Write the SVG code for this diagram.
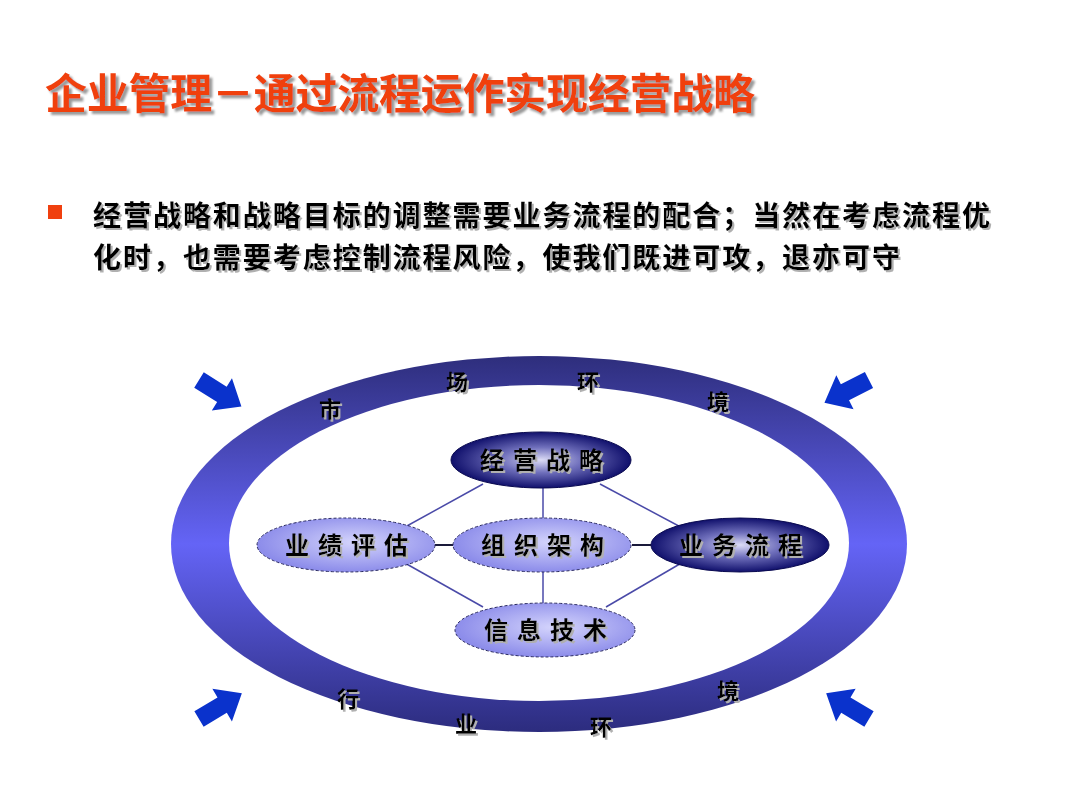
<svg xmlns="http://www.w3.org/2000/svg" width="1080" height="810" viewBox="0 0 1080 810">
<defs>
<style>
.cjk{font-family:"Noto Sans CJK SC","Noto Sans CJK TC",sans-serif;font-weight:bold;}
.title{font-size:42px;fill:#f0400f;}
.body{font-size:28px;fill:#000;}
.ring{font-size:22px;fill:#000;}
.node{font-size:24px;fill:#000;letter-spacing:9px;}
.conn{stroke:#4a4aa8;stroke-width:1.5;fill:none;}
.connd{stroke:#1a1a3a;stroke-width:2;fill:none;}
.arrow{fill:#0a32cc;}
</style>
<filter id="shadow" x="-10%" y="-20%" width="130%" height="150%">
<feGaussianBlur in="SourceAlpha" stdDeviation="0.8" result="b"/>
<feOffset in="b" dx="2.5" dy="2.5" result="o"/>
<feFlood flood-color="#9a9a9a"/>
<feComposite in2="o" operator="in" result="s"/>
<feMerge><feMergeNode in="s"/><feMergeNode in="SourceGraphic"/></feMerge>
</filter>
<filter id="shadowS" x="-10%" y="-20%" width="130%" height="150%">
<feGaussianBlur in="SourceAlpha" stdDeviation="0.6" result="b"/>
<feOffset in="b" dx="2" dy="2" result="o"/>
<feFlood flood-color="#b0b0b0"/>
<feComposite in2="o" operator="in" result="s"/>
<feMerge><feMergeNode in="s"/><feMergeNode in="SourceGraphic"/></feMerge>
</filter>
<linearGradient id="ringGrad" x1="0" y1="0" x2="0" y2="1">
<stop offset="0" stop-color="#2e2e7c"/>
<stop offset="0.5" stop-color="#6464f6"/>
<stop offset="1" stop-color="#2c2c7e"/>
</linearGradient>
<radialGradient id="darkGrad" cx="0.5" cy="0.5" r="0.5">
<stop offset="0" stop-color="#dcdcf6"/>
<stop offset="0.45" stop-color="#7070bc"/>
<stop offset="1" stop-color="#10106c"/>
</radialGradient>
<radialGradient id="lightGrad" cx="0.55" cy="0.45" r="0.55">
<stop offset="0" stop-color="#d4d4fc"/>
<stop offset="1" stop-color="#8c8cea"/>
</radialGradient>
<polygon id="arr" points="0,-9 27,-9 27,-19 50,0 27,19 27,9 0,9"/>
</defs>
<rect width="1080" height="810" fill="#ffffff"/>

<g id="title">
<text class="cjk title" x="45" y="109" textLength="710" filter="url(#shadow)">企业管理－通过流程运作实现经营战略</text>
</g>

<g id="bullet">
<rect x="48" y="205" width="14" height="14" fill="#f0400f"/>
<text class="cjk body" x="93" y="226" textLength="897" filter="url(#shadowS)">经营战略和战略目标的调整需要业务流程的配合；当然在考虑流程优</text>
<text class="cjk body" x="93" y="268" textLength="807" filter="url(#shadowS)">化时，也需要考虑控制流程风险，使我们既进可攻，退亦可守</text>
</g>

<g id="ring">
<ellipse cx="539" cy="544" rx="368" ry="188" fill="url(#ringGrad)"/>
<ellipse cx="539" cy="543" rx="310" ry="158" fill="#ffffff"/>
<g class="cjk ring" filter="url(#shadowS)">
<text x="330" y="417" text-anchor="middle">市</text>
<text x="457" y="390" text-anchor="middle">场</text>
<text x="588" y="390" text-anchor="middle">环</text>
<text x="718" y="410" text-anchor="middle">境</text>
<text x="348" y="707" text-anchor="middle">行</text>
<text x="466" y="732" text-anchor="middle">业</text>
<text x="601" y="735" text-anchor="middle">环</text>
<text x="728" y="699" text-anchor="middle">境</text>
</g>
</g>

<g id="arrows">
<use href="#arr" class="arrow" transform="translate(199,380) rotate(32)"/>
<use href="#arr" class="arrow" transform="translate(869,380) rotate(153)"/>
<use href="#arr" class="arrow" transform="translate(199,719) rotate(-31)"/>
<use href="#arr" class="arrow" transform="translate(869,719) rotate(-149)"/>
</g>

<g id="connectors">
<line class="conn" x1="483" y1="484" x2="396" y2="532"/>
<line class="conn" x1="600" y1="484" x2="690" y2="532"/>
<line class="conn" x1="543" y1="488" x2="543" y2="518"/>
<line class="conn" x1="543" y1="572" x2="543" y2="603"/>
<line class="conn" x1="396" y1="558" x2="483" y2="607"/>
<line class="conn" x1="690" y1="558" x2="606" y2="607"/>
<line class="connd" x1="435" y1="545" x2="453" y2="545"/>
<line class="connd" x1="632" y1="545" x2="651" y2="545"/>
</g>

<g id="node-jyzl">
<ellipse cx="541" cy="460" rx="90" ry="28" fill="url(#darkGrad)" stroke="#0a0a50" stroke-width="1"/>
<text class="cjk node" x="546" y="469" text-anchor="middle" filter="url(#shadowS)">经营战略</text>
</g>
<g id="node-yjpg">
<ellipse cx="346" cy="545" rx="89" ry="27" fill="url(#lightGrad)" stroke="#2a2a60" stroke-width="1" stroke-dasharray="3 2"/>
<text class="cjk node" x="351" y="554" text-anchor="middle" filter="url(#shadowS)">业绩评估</text>
</g>
<g id="node-zzjg">
<ellipse cx="542" cy="545" rx="89" ry="27" fill="url(#lightGrad)" stroke="#2a2a60" stroke-width="1" stroke-dasharray="3 2"/>
<text class="cjk node" x="547" y="554" text-anchor="middle" filter="url(#shadowS)">组织架构</text>
</g>
<g id="node-ywlc">
<ellipse cx="740" cy="545" rx="89" ry="27" fill="url(#darkGrad)" stroke="#0a0a50" stroke-width="1"/>
<text class="cjk node" x="745" y="554" text-anchor="middle" filter="url(#shadowS)">业务流程</text>
</g>
<g id="node-xxjs">
<ellipse cx="545" cy="630" rx="90" ry="27" fill="url(#lightGrad)" stroke="#2a2a60" stroke-width="1" stroke-dasharray="3 2"/>
<text class="cjk node" x="550" y="639" text-anchor="middle" filter="url(#shadowS)">信息技术</text>
</g>
</svg>
